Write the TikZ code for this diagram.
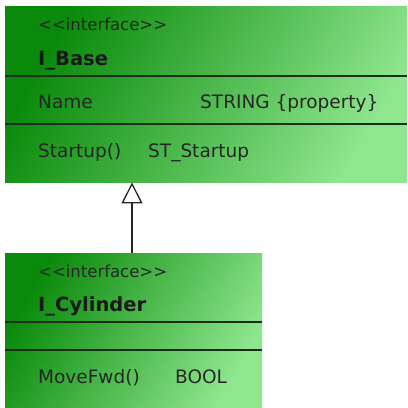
\documentclass[tikz,border=0pt]{standalone}
\usepackage{fontspec}
\setmainfont{DejaVu Sans}
\usetikzlibrary{arrows.meta}
\definecolor{gdark}{RGB}{10,138,10}
\definecolor{glight}{RGB}{142,230,142}
\definecolor{sepcol}{RGB}{25,45,25}
\begin{document}
\begin{tikzpicture}[x=1pt,y=-1pt,
  classbox/.style={left color=gdark,right color=glight,shading angle=60,draw=none,inner sep=0pt,anchor=north west},
  sepline/.style={draw=sepcol,line width=1.2pt},
  txt/.style={anchor=base west,inner sep=0pt,text=black!85,font=\fontsize{18.5}{20}\selectfont},
  stereo/.style={anchor=base west,inner sep=0pt,text=black!85,font=\fontsize{16.5}{18}\selectfont},
  cname/.style={anchor=base west,inner sep=0pt,text=black!90,font=\fontsize{19.5}{21}\selectfont\bfseries},
  genarrow/.style={draw=black!85,line width=1.3pt,-{Triangle[open,length=21pt,width=21pt,line width=1.3pt]}},
]
\useasboundingbox (0,0) rectangle (408,408);
% I_Base
\node[classbox,minimum width=402pt,minimum height=176pt] (base) at (5,6) {};
\draw[sepline] (5,76) -- (407,76);
\draw[sepline] (5,124) -- (407,124);
\node[stereo] (bst) at (38,30) {{<}{<}interface{>}{>}};
\node[cname] (bname) at (38,65) {I\_Base};
\node[txt] (battr) at (38,108) {Name};
\node[txt] (battrt) at (200,108) {STRING \{property\}};
\node[txt] (bop) at (38,157) {Startup()};
\node[txt] (bopt) at (148,157) {ST\_Startup};
% I_Cylinder
\node[classbox,minimum width=257pt,minimum height=154pt] (cyl) at (5,253) {};
\draw[sepline] (5,322) -- (262,322);
\draw[sepline] (5,350) -- (262,350);
\node[stereo] (cst) at (38,277) {{<}{<}interface{>}{>}};
\node[cname] (cname) at (38,311) {I\_Cylinder};
\node[txt] (cop) at (38,383) {MoveFwd()};
\node[txt] (copt) at (175,383) {BOOL};
% generalization
\coordinate (ax) at (132,0);
\draw[genarrow] (ax |- cyl.north) -- (ax |- base.south);
\end{tikzpicture}
\end{document}
